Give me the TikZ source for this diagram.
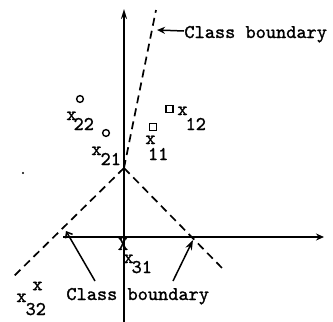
\documentclass[tikz,border=0pt]{standalone}
\usepackage{fontspec}
\newfontfamily\tw{Latin Modern Mono}[FakeBold=1.2]
\usetikzlibrary{arrows.meta}
\newcommand\xl[3]{x\kern#1\raisebox{-#2}{#3}}
\begin{document}
\begin{tikzpicture}[x=0.5pt,y=-0.5pt,
  txt/.style={font=\fontsize{9.7}{11}\selectfont\tw,inner sep=0pt,anchor=base west},
  axis/.style={line width=1.1pt},
  bnd/.style={line width=0.85pt,dash pattern=on 4pt off 2.6pt},
  ann/.style={line width=0.75pt},
  circ/.style={circle,draw,line width=0.7pt,minimum size=3.4pt,inner sep=0pt},
  sq/.style={rectangle,draw,line width=0.7pt,minimum size=3.6pt,inner sep=0pt}]
\useasboundingbox (0,0) rectangle (333,322);
% axes
\coordinate (ybot) at (124,322);
\coordinate (ytop) at (124,9);
\coordinate (xl) at (63,237);
\coordinate (xr) at (324,237);
\draw[axis,-{Stealth[length=5pt,width=3pt]}] (ybot) -- (ytop);
\draw[axis,-{Stealth[open,length=4pt,width=3.5pt]}] (xl) -- (xr);
% class boundaries
\coordinate (v) at (124,168);
\coordinate (bt) at (156,10);
\coordinate (bl) at (12,278);
\coordinate (br) at (222,268);
\draw[bnd] (v) -- (bt);
\draw[bnd] (v) -- (bl);
\draw[bnd] (v) -- (br);
% labels
\node[txt] (lt) at (184,38) {Class boundary};
\coordinate (lttip) at (157,30);
\draw[ann,-{Stealth[open,length=4pt,width=3.5pt]}] (lt.west |- 0,31) -- (lttip);
\node[txt] (lb) at (66,300) {Class boundary};
\coordinate (la1) at (95,281);
\coordinate (lt1) at (66,231);
\coordinate (la2) at (173,281);
\coordinate (lt2) at (193,240);
\draw[ann,-{Straight Barb[length=2.5pt,width=4pt]}] (la1) -- (lt1);
\draw[ann,-{Stealth[length=5pt,width=3.5pt]}] (la2) -- (lt2);
% samples
\node[circ] (c22) at (80,99) {};
\node[txt] (l22) at (66,120) {\xl{-1.5pt}{5pt}{22}};
\node[circ] (c21) at (106,133) {};
\node[txt] (l21) at (91,155) {\xl{-0.5pt}{5pt}{21}};
\node[sq] (s12) at (169.5,109) {};
\node[txt] (l12) at (177,115) {\xl{-1pt}{7.5pt}{12}};
\node[sq] (s11) at (153,127) {};
\node[txt] (l11) at (145,144) {\xl{-3.8pt}{8pt}{11}};
\node[txt,anchor=center] (m31) at (123,244) {X};
\node[txt] (l31) at (123,263) {\xl{-1pt}{5pt}{31}};
\node[txt,anchor=center] (m32) at (37.5,286) {x};
\node[txt] (l32) at (16,302) {\xl{-0.5pt}{6.5pt}{32}};
\node[circle,fill,inner sep=0pt,minimum size=1.2pt] (dot) at (23,173) {};
\end{tikzpicture}
\end{document}
